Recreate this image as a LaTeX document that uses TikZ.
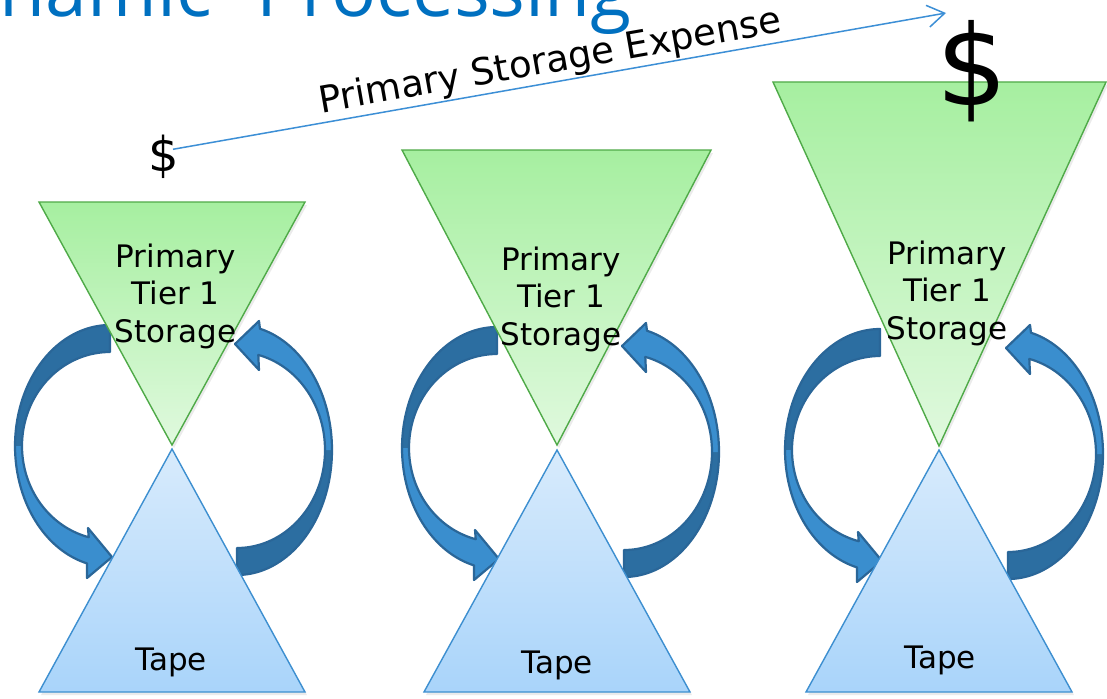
\documentclass[tikz,border=0pt]{standalone}
\usepackage{fontspec}
\setmainfont{DejaVu Sans}
\newfontfamily\titlefont{Open Sans}
\usetikzlibrary{arrows.meta}
\definecolor{titleblue}{HTML}{0070C0}
\definecolor{greentop}{HTML}{A6EFA0}
\definecolor{greenbot}{HTML}{E0F9DE}
\definecolor{greenedge}{HTML}{4FAA48}
\definecolor{bluetop}{HTML}{D8EBFC}
\definecolor{bluebot}{HTML}{A9D4FA}
\definecolor{blueedge}{HTML}{3D8FD0}
\definecolor{arrdark}{HTML}{2C6EA1}
\definecolor{arrlight}{HTML}{3A8ECE}
\definecolor{arredge}{HTML}{2A6698}
\definecolor{lineblue}{HTML}{3C8FD6}
\tikzset{
  greentri/.style={draw=greenedge, line width=1.4pt, top color=greentop, bottom color=greenbot, line join=miter},
  bluetri/.style={draw=blueedge, line width=1.4pt, top color=bluetop, bottom color=bluebot, line join=miter},
  trishadow/.style={fill=black, opacity=0.08},
  tierlabel/.style={font=\fontsize{31}{37.5}\selectfont, align=center, inner sep=0pt, anchor=north},
  tapelabel/.style={font=\fontsize{31}{37.5}\selectfont, inner sep=0pt, anchor=base},
  arrowdark/.style={fill=arrdark},
  arrowlight/.style={fill=arrlight},
  arrowrim/.style={draw=arredge, line width=2.2pt, line join=round},
  leftarc/.pic={
    \path[arrowdark] plot[domain=-90:-180,samples=40,variable=\t] ({95*cos(\t)},{121*sin(\t)})
      -- plot[domain=-180:-90,samples=40,variable=\t] ({88*cos(\t)},{94*sin(\t)}) -- cycle;
    \path[arrowlight] plot[domain=-180:-256,samples=40,variable=\t] ({95*cos(\t)},{121*sin(\t)})
      -- (-23,132) -- (2,111) -- (-22,82)
      -- plot[domain=-256:-180,samples=40,variable=\t] ({88*cos(\t)},{94*sin(\t)}) -- cycle;
    \path[arrowrim] plot[domain=-90:-256,samples=80,variable=\t] ({95*cos(\t)},{121*sin(\t)})
      -- (-23,132) -- (2,111) -- (-22,82)
      -- plot[domain=-256:-90,samples=80,variable=\t] ({88*cos(\t)},{94*sin(\t)}) -- cycle;
  },
  rightarc/.pic={
    \path[arrowdark] plot[domain=90:0,samples=40,variable=\t] ({95*cos(\t)},{125*sin(\t)})
      -- plot[domain=0:90,samples=40,variable=\t] ({88*cos(\t)},{98*sin(\t)}) -- cycle;
    \path[arrowlight] plot[domain=0:-76,samples=40,variable=\t] ({95*cos(\t)},{125*sin(\t)})
      -- (22,-129) -- (-2,-106) -- (22,-80)
      -- plot[domain=-76:0,samples=40,variable=\t] ({88*cos(\t)},{98*sin(\t)}) -- cycle;
    \path[arrowrim] plot[domain=90:-76,samples=80,variable=\t] ({95*cos(\t)},{125*sin(\t)})
      -- (22,-129) -- (-2,-106) -- (22,-80)
      -- plot[domain=-76:90,samples=80,variable=\t] ({88*cos(\t)},{98*sin(\t)}) -- cycle;
  },
}
\begin{document}
\begin{tikzpicture}[x=1pt,y=-1pt]
\useasboundingbox (0,0) rectangle (1107,698);
\fill[white] (0,0) rectangle (1107,698);
\clip (0,0) rectangle (1107,698);

% title (cut off by the top edge, as in the slide)
\node[font=\titlefont\fontsize{75}{80}\selectfont, text=titleblue, anchor=base east, inner sep=0pt] (title) at (632,17) {Dynamic\hspace{45pt}Processing};

% curved arrows
\pic at (110,446) {leftarc};
\pic at (237,450) {rightarc};
\pic at (497,448) {leftarc};
\pic at (624,452) {rightarc};
\pic at (880,450) {leftarc};
\pic at (1008,454) {rightarc};

% soft shadows
\fill[trishadow] (41,205) -- (307,205) -- (174,448) -- cycle;
\fill[trishadow] (404,153) -- (713,153) -- (559,448) -- cycle;
\fill[trishadow] (775,85) -- (1108,85) -- (941,449) -- cycle;
\fill[trishadow] (174,452) -- (307,695) -- (41,695) -- cycle;
\fill[trishadow] (559,453) -- (692,695) -- (426,695) -- cycle;
\fill[trishadow] (941,453) -- (1074,695) -- (808,695) -- cycle;

% primary storage triangles
\path[greentri] (39,202) -- (305,202) -- (172,445) -- cycle;
\path[greentri] (402,150) -- (711,150) -- (557,445) -- cycle;
\path[greentri] (773,82) -- (1106,82) -- (939,446) -- cycle;

% tape triangles
\path[bluetri] (172,449) -- (305,692) -- (39,692) -- cycle;
\path[bluetri] (557,450) -- (690,692) -- (424,692) -- cycle;
\path[bluetri] (939,450) -- (1072,692) -- (806,692) -- cycle;

% labels
\node[tierlabel] (tierA) at (175.5,243.4) {Primary\\Tier 1\\Storage};
\node[tierlabel] (tierB) at (561,246.4) {Primary\\Tier 1\\Storage};
\node[tierlabel] (tierC) at (947,240.7) {Primary\\Tier 1\\Storage};
\node[tapelabel] (tapeA) at (171,670) {Tape};
\node[tapelabel] (tapeB) at (557,673) {Tape};
\node[tapelabel] (tapeC) at (940,668) {Tape};

% costs
\node[font=\fontsize{48}{50}\selectfont, inner sep=0pt, anchor=base] (costlow) at (163.5,171) {\$};
\node[font=\fontsize{112}{115}\selectfont, inner sep=0pt, anchor=base] (costhigh) at (972,105.5) {\$};
\coordinate (expend) at (946,13);
\draw[lineblue, line width=1.5pt, -{Straight Barb[length=17pt,width=22pt,line width=1.5pt]}]
  ([shift={(-6,-7)}]costlow.east) -- (expend);
\node[font=\fontsize{37}{40}\selectfont, inner sep=0pt, anchor=base, rotate=10] (expense) at (552,72.5) {Primary Storage Expense};
\end{tikzpicture}
\end{document}
